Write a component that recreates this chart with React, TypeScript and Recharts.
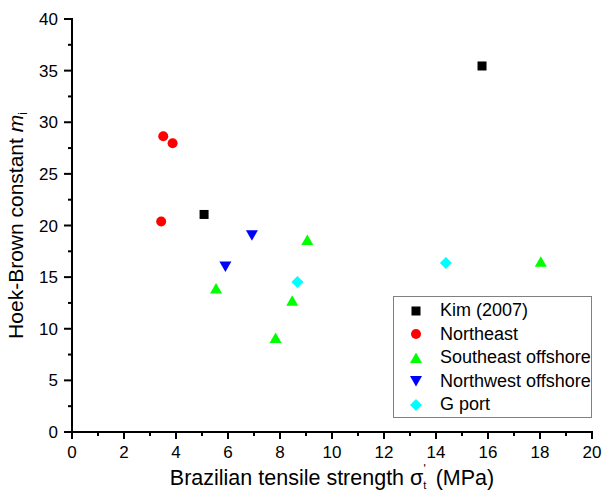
import React from "react";
import {
  ScatterChart,
  Scatter,
  XAxis,
  YAxis,
  Legend,
  Label,
} from "recharts";

// values
const kimX = [15.77, 5.08];
const kimY = [35.45, 21.07];
const northeastX = [3.51, 3.87, 3.43];
const northeastY = [28.65, 27.97, 20.39];
const southeastX = [5.54, 7.83, 8.47, 9.05, 18.03];
const southeastY = [13.9, 9.1, 12.7, 18.6, 16.5];
const northwestX = [6.92, 5.9];
const northwestY = [19.06, 16.03];
const gportX = [8.67, 14.38];
const gportY = [14.53, 16.38];

const xTicks = Array.from({ length: 21 }, (_, i) => i);
const yTicks = Array.from({ length: 17 }, (_, i) => i * 2.5);

const FONT = "'Liberation Sans', Arial, sans-serif";

const toPoints = (xs: number[], ys: number[]) => xs.map((x, i) => ({ x, y: ys[i] }));

type Marker = "square" | "circle" | "triangle" | "triangleDown" | "diamond";

function drawMarker(kind: Marker, cx: number, cy: number, color: string) {
  switch (kind) {
    case "square":
      return <rect x={cx - 4.5} y={cy - 4.5} width={9} height={9} fill={color} />;
    case "circle":
      return <circle cx={cx} cy={cy} r={5} fill={color} />;
    case "triangle":
      return (
        <polygon
          points={`${cx - 6},${cy + 5} ${cx + 6},${cy + 5} ${cx},${cy - 5.5}`}
          fill={color}
        />
      );
    case "triangleDown":
      return (
        <polygon
          points={`${cx - 6},${cy - 5} ${cx + 6},${cy - 5} ${cx},${cy + 5.5}`}
          fill={color}
        />
      );
    case "diamond":
      return (
        <polygon
          points={`${cx},${cy - 6} ${cx + 6},${cy} ${cx},${cy + 6} ${cx - 6},${cy}`}
          fill={color}
        />
      );
  }
}

const series: { name: string; color: string; marker: Marker; data: { x: number; y: number }[] }[] = [
  { name: "Kim (2007)", color: "#000000", marker: "square", data: toPoints(kimX, kimY) },
  { name: "Northeast", color: "#ff0000", marker: "circle", data: toPoints(northeastX, northeastY) },
  { name: "Southeast offshore", color: "#00ff00", marker: "triangle", data: toPoints(southeastX, southeastY) },
  { name: "Northwest offshore", color: "#0000ff", marker: "triangleDown", data: toPoints(northwestX, northwestY) },
  { name: "G port", color: "#00ffff", marker: "diamond", data: toPoints(gportX, gportY) },
];

const XTick = (props: any) => {
  const { x, y, payload } = props;
  const major = payload.value % 2 === 0;
  return (
    <g>
      <line x1={x} x2={x} y1={y} y2={y + (major ? 7 : 4)} stroke="#000" strokeWidth={2} />
      {major && (
        <text x={x} y={y + 26} textAnchor="middle" fontSize={17} fontFamily={FONT} fill="#000">
          {payload.value}
        </text>
      )}
    </g>
  );
};

const YTick = (props: any) => {
  const { x, y, payload } = props;
  const major = payload.value % 5 === 0;
  return (
    <g>
      <line x1={x} x2={x - (major ? 8 : 4)} y1={y} y2={y} stroke="#000" strokeWidth={2} />
      {major && (
        <text x={x - 14} y={y + 6} textAnchor="end" fontSize={17} fontFamily={FONT} fill="#000">
          {payload.value}
        </text>
      )}
    </g>
  );
};

const XTitle = (props: any) => {
  const { x, width, y } = props.viewBox;
  return (
    <text x={x + width / 2} y={y + 53} textAnchor="middle" fontSize={21.5} fontFamily={FONT} fill="#000">
      Brazilian tensile strength σ
      <tspan dy={4} fontSize={11}>t</tspan>
      <tspan dx={-3} dy={-16} fontSize={12}>'</tspan>
      <tspan dx={4} dy={12} fontSize={21.5}> (MPa)</tspan>
    </text>
  );
};

const YTitle = (props: any) => {
  const { y, height } = props.viewBox;
  const cx = 23;
  const cy = y + height / 2;
  return (
    <text
      x={cx}
      y={cy}
      transform={`rotate(-90 ${cx} ${cy})`}
      textAnchor="middle"
      fontSize={21}
      fontFamily={FONT}
      fill="#000"
    >
      Hoek-Brown constant <tspan fontStyle="italic">m</tspan>
      <tspan dy={4} fontSize={12}>i</tspan>
    </text>
  );
};

const LegendBox = () => (
  <div
    style={{
      border: "1px solid #808080",
      background: "#fff",
      width: 199,
      height: 122,
      boxSizing: "border-box",
      paddingTop: 2,
      fontFamily: FONT,
      fontSize: 18,
    }}
  >
    {series.map((s) => (
      <div key={s.name} style={{ display: "flex", alignItems: "center", height: 23.5 }}>
        <svg width={44} height={20} style={{ flexShrink: 0 }}>
          {drawMarker(s.marker, 22, 10, s.color)}
        </svg>
        <span style={{ marginLeft: 2, whiteSpace: "nowrap" }}>{s.name}</span>
      </div>
    ))}
  </div>
);

export default function App() {
  return (
    <div style={{ position: "absolute", left: 0, top: 0, background: "#fff" }}>
      <ScatterChart width={604} height={500} margin={{ top: 19, right: 12, bottom: 0, left: 0 }}>
        <XAxis
          type="number"
          dataKey="x"
          domain={[0, 20]}
          ticks={xTicks}
          interval={0}
          tickSize={0}
          tickMargin={0}
          tickLine={false}
          tick={<XTick />}
          height={68}
          axisLine={{ stroke: "#000", strokeWidth: 2, strokeLinecap: "square" }}
        >
          <Label content={<XTitle />} />
        </XAxis>
        <YAxis
          type="number"
          dataKey="y"
          domain={[0, 40]}
          ticks={yTicks}
          interval={0}
          tickSize={0}
          tickMargin={0}
          tickLine={false}
          tick={<YTick />}
          width={72}
          axisLine={{ stroke: "#000", strokeWidth: 2, strokeLinecap: "square" }}
        >
          <Label content={<YTitle />} />
        </YAxis>
        <Legend
          layout="vertical"
          align="center"
          verticalAlign="middle"
          content={<LegendBox />}
          wrapperStyle={{ position: "absolute", left: 393, top: 296, width: 199, height: 122 }}
        />
        {series.map((s) => (
          <Scatter
            key={s.name}
            name={s.name}
            data={s.data}
            fill={s.color}
            isAnimationActive={false}
            shape={(p: any) => drawMarker(s.marker, p.cx, p.cy, s.color)}
          />
        ))}
      </ScatterChart>
    </div>
  );
}
